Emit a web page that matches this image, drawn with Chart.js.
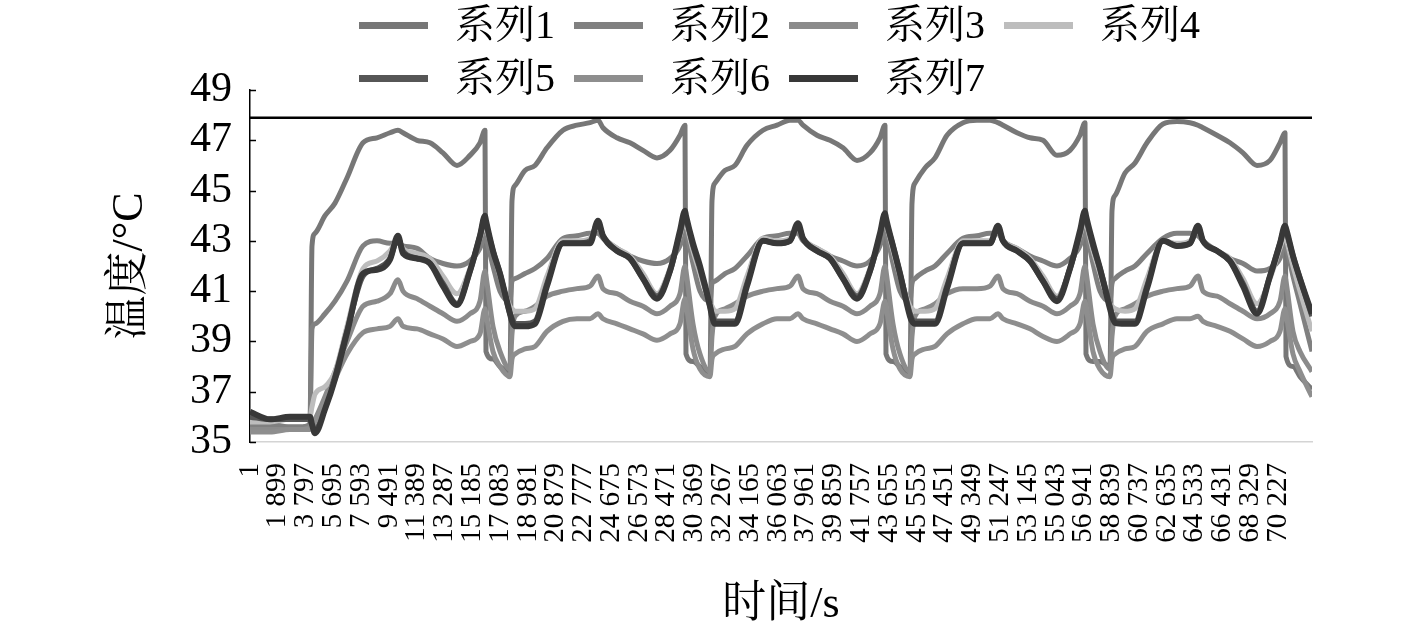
<!DOCTYPE html>
<html>
<head>
<meta charset="utf-8">
<script src="https://cdn.jsdelivr.net/npm/chart.js@4.4.1/dist/chart.umd.min.js"></script>
<style>
html,body{margin:0;padding:0;background:#fff;}
#wrap{position:relative;width:1417px;height:632px;overflow:hidden;background:#fff;}
#legend{position:absolute;left:0;top:0;width:1417px;height:110px;pointer-events:none;}
.li{position:absolute;display:flex;align-items:center;height:48px;}
.sw{width:69px;height:7px;}
.tx{margin-left:27px;font-family:"Liberation Serif","Noto Serif CJK SC","Noto Sans CJK SC",serif;font-size:40px;line-height:48px;color:#000;white-space:nowrap;}
</style>
</head>
<body>
<div id="wrap">
<canvas id="c" width="1417" height="632"></canvas>
<div id="legend"></div>
</div>
<script>
// ---- data (time in seconds, temperature in °C) ----
const times = [
  1, 1366, 2732,
  3415, 4098, 4235, 4440, 5123, 5806, 6625, 7718, 8674, 9562, 10108, 10450, 11406, 12294, 13182, 14138, 15026, 15709, 16051, 16119, 16597,
  17075, 17758, 17895, 18100, 18783, 19466, 20285, 21378, 22334, 23222, 23768, 24110, 25066, 25954, 26842, 27798, 28686, 29369, 29711, 29779, 30257,
  30735, 31418, 31555, 31760, 32443, 33126, 33945, 35038, 35994, 36882, 37428, 37770, 38726, 39614, 40502, 41458, 42346, 43029, 43371, 43439, 43917,
  44395, 45078, 45215, 45420, 46103, 46786, 47605, 48698, 49654, 50542, 51088, 51430, 52386, 53274, 54162, 55118, 56006, 56689, 57031, 57099, 57577,
  58055, 58738, 58875, 59080, 59763, 60446, 61265, 62358, 63314, 64202, 64748, 65090, 66046, 66934, 67822, 68778, 69666, 70349, 70691, 70759, 71237,
  71715, 72535
];

const series1 = [
  35.7, 35.6, 35.6,
  35.6, 35.7, 42.8, 43.3, 44.0, 44.5, 45.5, 46.9, 47.1, 47.3, 47.4, 47.3, 47.0, 46.9, 46.5, 46.0, 46.4, 46.9, 47.4, 38.6, 38.3,
  38.0, 37.8, 44.6, 45.2, 45.8, 46.0, 46.7, 47.4, 47.6, 47.7, 47.8, 47.5, 47.1, 46.9, 46.6, 46.3, 46.6, 47.2, 47.6, 38.5, 38.2,
  38.0, 37.7, 44.6, 45.3, 45.8, 46.0, 46.8, 47.4, 47.6, 47.8, 47.8, 47.6, 47.2, 47.0, 46.7, 46.2, 46.5, 47.1, 47.6, 38.5, 38.2,
  38.0, 37.7, 44.5, 45.3, 45.9, 46.3, 47.2, 47.7, 47.8, 47.8, 47.7, 47.6, 47.3, 47.1, 47.0, 46.4, 46.6, 47.2, 47.7, 38.5, 38.2,
  38.2, 38.0, 44.2, 44.8, 45.7, 46.1, 46.9, 47.65, 47.75, 47.7, 47.6, 47.5, 47.2, 46.9, 46.5, 46.0, 46.2, 46.9, 47.3, 38.4, 38.0,
  37.6, 37.1
];
const series2 = [
  35.7, 35.7, 35.6,
  35.6, 35.7, 39.5, 39.7, 40.1, 40.6, 41.4, 42.8, 43.0, 42.9, 42.9, 42.8, 42.7, 42.3, 42.1, 42.0, 42.2, 42.7, 43.2, 43.1, 42.0,
  41.0, 40.6, 41.4, 41.5, 41.7, 41.9, 42.3, 43.1, 43.2, 43.3, 43.3, 43.1, 42.7, 42.4, 42.2, 42.1, 42.3, 42.8, 43.5, 43.4, 42.1,
  41.0, 40.6, 41.3, 41.4, 41.7, 41.9, 42.4, 43.1, 43.2, 43.3, 43.3, 43.0, 42.7, 42.4, 42.2, 42.0, 42.2, 42.8, 43.5, 43.4, 42.1,
  41.0, 40.6, 41.3, 41.5, 41.8, 42.0, 42.5, 43.1, 43.2, 43.3, 43.3, 43.0, 42.7, 42.4, 42.2, 42.0, 42.3, 42.8, 43.5, 43.4, 42.1,
  41.0, 40.6, 41.3, 41.5, 41.8, 42.0, 42.5, 43.1, 43.3, 43.3, 43.2, 43.0, 42.6, 42.3, 42.1, 41.8, 41.9, 42.3, 42.9, 42.8, 41.6,
  40.5, 38.6
];
const series3 = [
  35.5, 35.5, 35.5,
  35.5, 35.6, 35.7, 35.9, 36.8, 37.8, 39.0, 40.4, 40.6, 40.9, 41.45, 41.0, 40.7, 40.4, 40.1, 39.8, 40.1, 40.6, 41.8, 41.6, 39.6,
  38.6, 37.9, 39.3, 40.0, 40.2, 40.4, 40.8, 41.0, 41.1, 41.2, 41.6, 41.1, 40.9, 40.6, 40.4, 40.1, 40.4, 40.9, 42.0, 41.8, 39.7,
  38.5, 37.8, 39.2, 40.0, 40.3, 40.5, 40.8, 41.0, 41.1, 41.2, 41.6, 41.1, 40.9, 40.6, 40.4, 40.1, 40.4, 40.9, 42.0, 41.8, 39.7,
  38.5, 37.8, 39.2, 40.0, 40.3, 40.5, 40.9, 41.1, 41.1, 41.2, 41.6, 41.1, 40.9, 40.6, 40.4, 40.1, 40.4, 40.9, 42.0, 41.8, 39.7,
  38.6, 37.9, 39.2, 40.0, 40.3, 40.5, 40.8, 41.0, 41.1, 41.2, 41.6, 41.0, 40.8, 40.5, 40.2, 39.9, 40.1, 40.6, 41.6, 41.4, 39.4,
  38.6, 37.8
];
const series4 = [
  35.8, 35.8, 35.9,
  35.9, 36.0, 36.4, 36.9, 37.2, 37.8, 39.6, 41.9, 42.2, 42.6, 43.1, 42.7, 42.5, 42.3, 41.6, 40.9, 41.9, 43.1, 43.6, 43.5, 42.6,
  41.6, 40.4, 40.3, 40.2, 40.2, 40.3, 41.6, 43.0, 43.0, 43.1, 43.6, 43.2, 42.7, 42.4, 41.7, 40.9, 41.9, 43.2, 43.8, 43.7, 42.6,
  41.7, 40.5, 40.4, 40.2, 40.2, 40.3, 41.6, 43.1, 43.0, 43.1, 43.5, 43.1, 42.7, 42.4, 41.7, 40.9, 41.9, 43.2, 43.8, 43.7, 42.6,
  41.6, 40.4, 40.3, 40.2, 40.2, 40.3, 41.5, 43.0, 43.0, 43.0, 43.4, 43.0, 42.7, 42.3, 41.6, 40.8, 41.9, 43.2, 43.8, 43.7, 42.6,
  41.7, 40.5, 40.4, 40.3, 40.2, 40.3, 41.5, 43.0, 42.9, 43.0, 43.4, 43.0, 42.6, 42.3, 41.5, 40.5, 41.5, 42.7, 43.2, 43.1, 42.0,
  41.0, 39.4
];
const series5 = [
  36.0, 35.9, 35.9,
  35.9, 35.9, 35.7, 35.5, 36.4, 37.6, 39.4, 41.6, 41.9, 42.3, 43.1, 42.6, 42.3, 42.1, 41.3, 40.5, 41.8, 43.2, 43.9, 43.7, 42.6,
  41.7, 40.1, 39.9, 39.7, 39.7, 39.8, 41.3, 42.9, 42.9, 43.0, 43.7, 43.2, 42.6, 42.3, 41.5, 40.8, 41.8, 43.3, 44.0, 43.9, 42.8,
  41.9, 40.4, 40.1, 39.8, 39.8, 39.8, 41.3, 43.0, 42.9, 43.0, 43.6, 43.1, 42.6, 42.3, 41.5, 40.8, 41.8, 43.2, 44.0, 43.8, 42.8,
  41.7, 40.1, 39.9, 39.8, 39.8, 39.8, 41.2, 42.9, 42.9, 42.9, 43.5, 43.0, 42.6, 42.2, 41.4, 40.7, 41.9, 43.3, 44.1, 43.9, 42.8,
  41.9, 40.4, 40.1, 39.8, 39.8, 39.8, 41.2, 43.0, 42.8, 42.9, 43.5, 43.0, 42.6, 42.2, 41.3, 40.2, 41.6, 42.9, 43.5, 43.4, 42.4,
  41.5, 40.0
];
const series6 = [
  35.4, 35.4, 35.5,
  35.5, 35.5, 35.6, 35.8, 36.6, 37.5, 38.5, 39.35, 39.5, 39.6, 39.9, 39.6, 39.5, 39.3, 39.1, 38.8, 39.0, 39.3, 40.3, 40.1, 38.6,
  38.0, 37.6, 38.3, 38.5, 38.7, 38.8, 39.4, 39.8, 39.9, 39.9, 40.1, 39.9, 39.7, 39.5, 39.3, 39.05, 39.3, 39.7, 40.7, 40.5, 38.7,
  37.9, 37.6, 38.3, 38.5, 38.7, 38.8, 39.3, 39.7, 39.9, 39.9, 40.1, 39.9, 39.7, 39.5, 39.3, 39.0, 39.3, 39.7, 40.6, 40.4, 38.7,
  37.9, 37.6, 38.3, 38.5, 38.7, 38.8, 39.3, 39.7, 39.9, 39.9, 40.1, 39.9, 39.7, 39.5, 39.2, 39.0, 39.3, 39.7, 40.6, 40.4, 38.6,
  37.9, 37.6, 38.3, 38.5, 38.7, 38.8, 39.4, 39.7, 39.9, 39.9, 40.0, 39.8, 39.6, 39.4, 39.1, 38.8, 39.0, 39.4, 40.3, 40.1, 38.5,
  37.8, 36.8
];
const series7 = [
  36.2, 35.9, 36.0,
  36.0, 36.0, 35.7, 35.35, 36.3, 37.5, 39.35, 41.7, 41.85, 42.25, 43.2, 42.5, 42.3, 42.1, 41.2, 40.45, 41.8, 43.2, 44.0, 43.8, 42.6,
  41.7, 40.1, 39.8, 39.6, 39.6, 39.7, 41.2, 42.9, 42.9, 42.9, 43.8, 43.2, 42.6, 42.3, 41.5, 40.7, 41.8, 43.4, 44.2, 44.0, 42.9,
  42.0, 40.4, 40.0, 39.7, 39.7, 39.7, 41.2, 43.0, 42.9, 43.0, 43.7, 43.1, 42.6, 42.3, 41.5, 40.7, 41.8, 43.3, 44.1, 43.9, 42.8,
  41.7, 40.0, 39.8, 39.7, 39.7, 39.7, 41.1, 42.9, 42.9, 42.9, 43.6, 43.0, 42.6, 42.2, 41.4, 40.6, 41.9, 43.4, 44.2, 44.0, 42.9,
  41.9, 40.3, 40.0, 39.74, 39.7, 39.7, 41.1, 43.0, 42.8, 42.9, 43.6, 43.0, 42.6, 42.2, 41.2, 40.1, 41.6, 42.9, 43.6, 43.5, 42.4,
  41.5, 40.1
];
const limitValue = 47.9;

const seriesNames = ['系列1', '系列2', '系列3', '系列4', '系列5', '系列6', '系列7'];

const tickValues = [1, 1899, 3797, 5695, 7593, 9491, 11389, 13287, 15185, 17083, 18981, 20879, 22777, 24675, 26573, 28471, 30369, 32267, 34165, 36063, 37961, 39859, 41757, 43655, 45553, 47451, 49349, 51247, 53145, 55043, 56941, 58839, 60737, 62635, 64533, 66431, 68329, 70227];
const tickLabels = ['1', '1 899', '3 797', '5 695', '7 593', '9 491', '11 389', '13 287', '15 185', '17 083', '18 981', '20 879', '22 777', '24 675', '26 573', '28 471', '30 369', '32 267', '34 165', '36 063', '37 961', '39 859', '41 757', '43 655', '45 553', '47 451', '49 349', '51 247', '53 145', '55 043', '56 941', '58 839', '60 737', '62 635', '64 533', '66 431', '68 329', '70 227'];
const yTicks = [35, 37, 39, 41, 43, 45, 47, 49];

// ---- styles ----
const seriesColors = ['#777777', '#808080', '#8b8b8b', '#bdbdbd', '#565656', '#8e8e8e', '#383838'];
const seriesWidths = [5, 5, 5, 5, 5.5, 5, 6];
const FONT = '"Liberation Serif", "Noto Serif CJK SC", "Noto Sans CJK SC", serif';
const xMin = 1, xMax = 72535;

const seriesAll = [series1, series2, series3, series4, series5, series6, series7];
const datasets = seriesAll.map((vals, i) => ({
  label: seriesNames[i],
  data: times.map((t, j) => ({ x: t, y: vals[j] })),
  borderColor: seriesColors[i],
  backgroundColor: seriesColors[i],
  borderWidth: seriesWidths[i],
  pointRadius: 0,
  cubicInterpolationMode: 'monotone',
  fill: false,
  borderJoinStyle: 'round',
  order: 10 - i
}));
datasets.push({
  label: 'limit',
  data: [{ x: xMin, y: limitValue }, { x: xMax, y: limitValue }],
  borderColor: '#000',
  borderWidth: 2.5,
  pointRadius: 0,
  fill: false,
  order: 0
});

const innerTicks = {
  id: 'innerTicks',
  afterDatasetsDraw(chart) {
    const ys = chart.scales.y;
    const ctx = chart.ctx;
    const left = chart.chartArea.left;
    ctx.save();
    ctx.strokeStyle = '#000';
    ctx.lineWidth = 1.5;
    ys.ticks.forEach(t => {
      const p = Math.round(ys.getPixelForValue(t.value)) + 0.5;
      ctx.beginPath();
      ctx.moveTo(left, p);
      ctx.lineTo(left + 6, p);
      ctx.stroke();
    });
    ctx.restore();
  }
};

new Chart(document.getElementById('c'), {
  type: 'line',
  data: { datasets },
  plugins: [innerTicks],
  options: {
    responsive: false,
    animation: false,
    devicePixelRatio: 1,
    layout: { padding: { top: 90, right: 105, left: 0, bottom: 0 } },
    plugins: { legend: { display: false }, tooltip: { enabled: false } },
    scales: {
      x: {
        type: 'linear',
        min: xMin,
        max: xMax,
        afterBuildTicks: s => { s.ticks = tickValues.map(v => ({ value: v })); },
        afterFit: s => { s.height = 190; s.paddingLeft = 0; s.paddingRight = 0; },
        ticks: {
          autoSkip: false,
          maxRotation: 90,
          minRotation: 90,
          padding: 21,
          color: '#000',
          font: { family: FONT, size: 29 },
          callback: v => { const k = tickValues.indexOf(v); return k >= 0 ? tickLabels[k] : ''; }
        },
        grid: { display: false, drawTicks: false },
        border: { display: true, color: '#d4d4d4', width: 1.5 },
        title: { display: true, text: '时间/s', color: '#000', font: { family: FONT, size: 44 }, padding: { top: 0, bottom: 0 } }
      },
      y: {
        min: 35,
        max: 49,
        afterBuildTicks: s => { s.ticks = yTicks.map(v => ({ value: v })); },
        afterFit: s => { s.width = 250; },
        ticks: { autoSkip: false, padding: 18, color: '#000', font: { family: FONT, size: 42 } },
        grid: { display: false, drawTicks: false },
        border: { display: true, color: '#000', width: 1.5 },
        title: { display: true, text: '温度/°C', color: '#000', font: { family: FONT, size: 44 }, padding: { top: 104, bottom: 0 } }
      }
    }
  }
});

// HTML legend (two rows, left-aligned grid like the reference)
const legend = document.getElementById('legend');
const perRow = 4, colW = 215, x0 = 359, rowY = [1, 54];
seriesNames.forEach((name, i) => {
  const item = document.createElement('div');
  item.className = 'li';
  item.style.left = (x0 + (i % perRow) * colW) + 'px';
  item.style.top = rowY[Math.floor(i / perRow)] + 'px';
  const sw = document.createElement('div');
  sw.className = 'sw';
  sw.style.background = seriesColors[i];
  const tx = document.createElement('span');
  tx.className = 'tx';
  tx.textContent = name;
  item.appendChild(sw);
  item.appendChild(tx);
  legend.appendChild(item);
});
</script>
</body>
</html>
